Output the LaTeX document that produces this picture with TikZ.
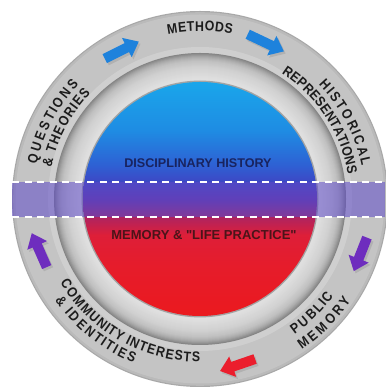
\documentclass[tikz,border=0pt]{standalone}
\usepackage{fontspec}
\newfontfamily\labfont{Liberation Sans}
\newfontfamily\ringfam{Liberation Sans}[FakeStretch=0.88]
\usetikzlibrary{decorations.text,shapes.arrows,shadows}
\definecolor{ringtxt}{RGB}{28,28,28}
\definecolor{navytxt}{RGB}{25,35,95}
\definecolor{marotxt}{RGB}{75,20,25}
\definecolor{arrblue}{RGB}{30,130,220}
\definecolor{arrpurple}{RGB}{110,45,190}
\definecolor{arrred}{RGB}{235,30,45}
\definecolor{bandcol}{RGB}{95,75,200}
\newcommand\ringfont{\ringfam\bfseries\fontsize{14}{14}\selectfont}
\pgfdeclareverticalshading{diskshade}{100bp}{%
 rgb(0bp)=(0.92,0.10,0.12); rgb(25bp)=(0.92,0.10,0.12); rgb(36bp)=(0.90,0.11,0.17);
 rgb(42.3bp)=(0.87,0.12,0.22); rgb(46.2bp)=(0.68,0.14,0.38); rgb(50bp)=(0.38,0.20,0.66);
 rgb(53.6bp)=(0.24,0.28,0.77); rgb(57.3bp)=(0.18,0.38,0.83); rgb(64.7bp)=(0.12,0.55,0.89);
 rgb(75bp)=(0.10,0.65,0.92); rgb(100bp)=(0.10,0.65,0.92)}
\tikzset{
  ringlabel/.style={font=\ringfont, text=ringtxt, decorate, decoration={text effects along path, text={#1},
     text effects/.cd, text along path, fit text to path,
     character widths={font=\ringfont},
     characters={font=\ringfont, text=ringtxt, anchor=base}}},
  disklabel/.style={inner sep=0pt, font=\labfont\bfseries\fontsize{#1}{#1}\selectfont},
  dashline/.style={white, line width=2.6pt, dash pattern=on 7pt off 5.5pt},
  blockarrow/.style={single arrow, inner xsep=0pt, inner ysep=4.8pt, single arrow head extend=5.8pt,
     single arrow tip angle=78, draw=none,
     drop shadow={shadow xshift=1.8pt, shadow yshift=-2.2pt, opacity=0.28}},
}
\begin{document}
\begin{tikzpicture}[x=1pt,y=1pt]
\fill[white] (0,0) rectangle (385,387);
\useasboundingbox (0,0) rectangle (385,387);
\coordinate (C) at (200,188);
% outer ring
\fill[black!34] (C) circle[radius=188];
\fill[black!27] (C) circle[radius=186.8];
\fill[black!23] (C) circle[radius=184.5];
\fill[black!19] (C) circle[radius=152];
% bezel
\foreach \r/\p in {146/48,145/44,144/40,143/36,142/33,141/30,140/28,139/26,138/24,137/23,136/22,135/21,
  134/20,133/19,132/18,131/17.5,130/17,129/16.5,128/16,127/15.5,126/15,125/14.5,124/14,123/13.5,
  122/13,121/12.5,120/12,119/13}{
  \fill[black!\p] (C) circle[radius=\r];
}
\fill[black!36] (C) circle[radius=118.4];
\shade[shading=diskshade] (C) circle[radius=117];
% band
\fill[bandcol, opacity=0.55] (12,170) rectangle (385,205);
\coordinate (b1) at (12,205); \coordinate (b2) at (385,205);
\coordinate (b3) at (12,170); \coordinate (b4) at (385,170);
\draw[dashline] (b1) -- (b2);
\draw[dashline] (b3) -- (b4);
% disk labels
\node[disklabel=12.6, text=navytxt] (dh) at (198,224) {DISCIPLINARY HISTORY};
\node[disklabel=13, text=marotxt] (mlp) at (204,152) {MEMORY \& "LIFE PRACTICE"};
% ring labels
\path[ringlabel=METHODS] ([shift={(200,188)}]101:168) arc[start angle=101, end angle=79, radius=168];
\path[ringlabel=QUESTIONS] ([shift={(200,188)}]168:167) arc[start angle=168, end angle=136.5, radius=167];
\path[ringlabel={\& THEORIES}] ([shift={(200,188)}]168:152) arc[start angle=168, end angle=136, radius=152];
\path[ringlabel=HISTORICAL] ([shift={(200,188)}]44:165) arc[start angle=44, end angle=11.5, radius=165];
\path[ringlabel=REPRESENTATIONS] ([shift={(200,188)}]57:150) arc[start angle=57, end angle=9.5, radius=150];
\path[ringlabel={COMMUNITY INTERESTS}] ([shift={(200,188)}]211:163) arc[start angle=211, end angle=270, radius=163];
\path[ringlabel={\& IDENTITIES}] ([shift={(200,188)}]215:177) arc[start angle=215, end angle=248, radius=177];
\path[ringlabel=PUBLIC] ([shift={(200,188)}]305:165) arc[start angle=305, end angle=324, radius=165];
\path[ringlabel=MEMORY] ([shift={(200,188)}]304:182) arc[start angle=304, end angle=326, radius=182];
% arrows
\node[blockarrow, fill=arrblue, minimum height=38pt, rotate=26.6] (a1) at (119,335.5) {};
\node[blockarrow, fill=arrblue, minimum height=40pt, rotate=-25.3] (a2) at (263,345.5) {};
\node[blockarrow, fill=arrpurple, minimum height=36pt, rotate=-111.5] (a3) at (361.5,135.5) {};
\node[blockarrow, fill=arrred, minimum height=37pt, rotate=198.9] (a4) at (240.5,23) {};
\node[blockarrow, fill=arrpurple, minimum height=37pt, rotate=113.8] (a5) at (40.5,134) {};
\end{tikzpicture}
\end{document}
